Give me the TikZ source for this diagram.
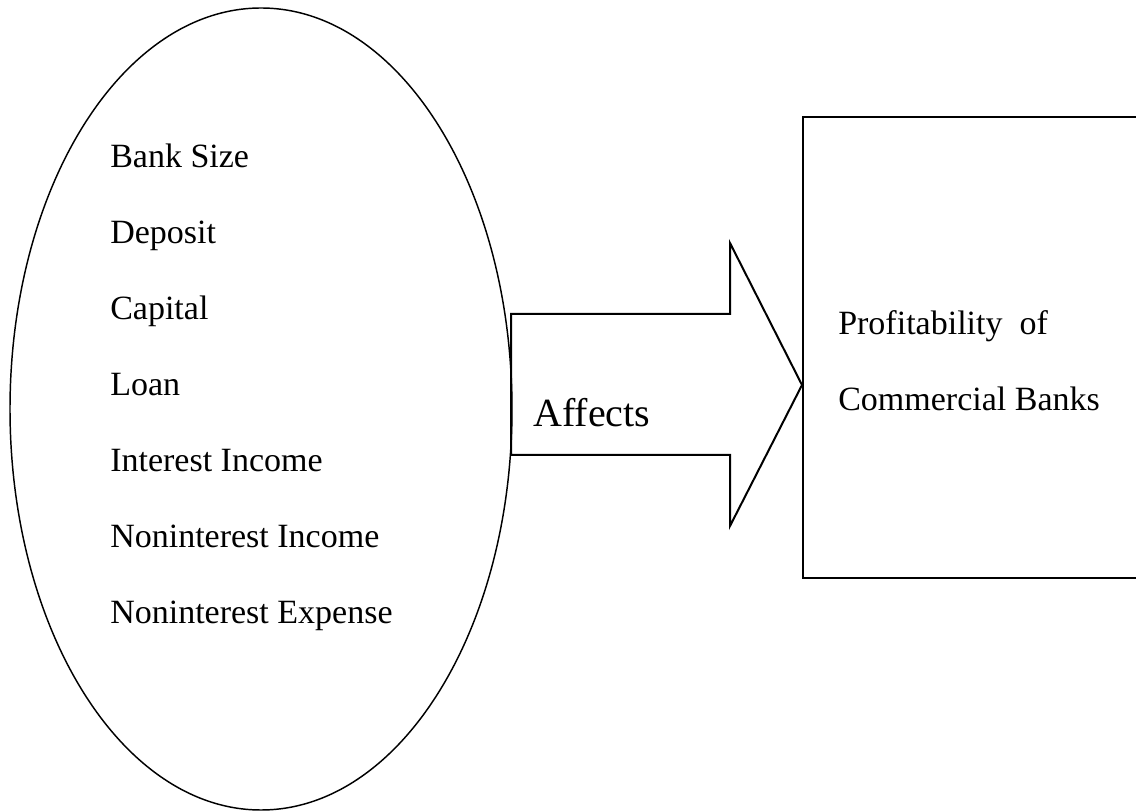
\documentclass[tikz,border=0pt]{standalone}
\usepackage{fontspec}
\setmainfont{Liberation Serif}
\begin{document}
\begin{tikzpicture}[x=0.75pt,y=-0.75pt]

    \tikzset{
      item/.style={
        anchor=base west,
        inner sep=0pt,
        font=\fontsize{25.5}{30}\selectfont,
      },
      bigitem/.style={
        anchor=base west,
        inner sep=0pt,
        font=\fontsize{30}{36}\selectfont,
      },
    }
    \useasboundingbox (0,0) rectangle (1136,812);

	\draw[color ={black},line width = 1.1] (261,409) ellipse [x radius=251,y radius=401];
	\node[item] (banksize) at (110,168) {Bank Size};
	\node[item] (deposit) at (110,244) {Deposit};
	\node[item] (capital) at (110,320) {Capital};
	\node[item] (loan) at (110,396) {Loan};
	\node[item] (intincome) at (110,472) {Interest Income};
	\node[item] (nonincome) at (110,548) {Noninterest Income};
	\node[item] (nonexpense) at (110,624) {Noninterest Expense};

	\draw[color ={black},line width = 1.5,line join=miter] (511,314)--(730,314)--(730,243)--(802,385)--(730,526)--(730,455)--(511,455)--cycle;
	\node[bigitem] (affects) at (533,427) {Affects};

	\begin{scope}
	\clip (0,0) rectangle (1136,812);
	\draw[color ={black},line width = 2] (1140,117)--(803,117)--(803,578)--(1140,578);
	\end{scope}
	\node[item] (profit) at (838,335) {Profitability\ \ of};
	\node[item] (commercial) at (838,411) {Commercial Banks};

\end{tikzpicture}
\end{document}
